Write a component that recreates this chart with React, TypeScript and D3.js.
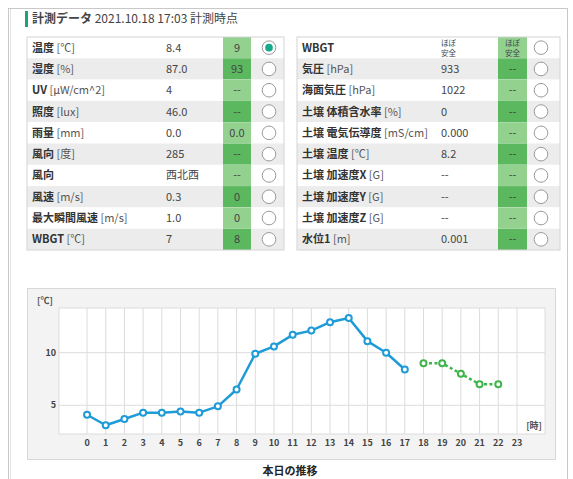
import React from "react";
import * as d3 from "d3";

const leftLabels = ["温度", "湿度", "UV", "照度", "雨量", "風向", "風向", "風速", "最大瞬間風速", "WBGT"];
const leftUnits = [" [℃]", " [%]", " [μW/cm^2]", " [lux]", " [mm]", " [度]", "", " [m/s]", " [m/s]", " [℃]"];
const leftValues = ["8.4", "87.0", "4", "46.0", "0.0", "285", "西北西", "0.3", "1.0", "7"];
const leftForecast = ["9", "93", "--", "--", "0.0", "--", "--", "0", "0", "8"];

const rightLabels = ["WBGT", "気圧", "海面気圧", "土壌 体積含水率", "土壌 電気伝導度", "土壌 温度", "土壌 加速度X", "土壌 加速度Y", "土壌 加速度Z", "水位1"];
const rightUnits = ["", " [hPa]", " [hPa]", " [%]", " [mS/cm]", " [℃]", " [G]", " [G]", " [G]", " [m]"];
const rightValues = ["ほぼ|安全", "933", "1022", "0", "0.000", "8.2", "--", "--", "--", "0.001"];
const rightForecast = ["ほぼ|安全", "--", "--", "--", "--", "--", "--", "--", "--", "--"];

const hourTicks = [0, 1, 2, 3, 4, 5, 6, 7, 8, 9, 10, 11, 12, 13, 14, 15, 16, 17, 18, 19, 20, 21, 22, 23];
const yTicks = [5, 10];
const actualHours = [0, 1, 2, 3, 4, 5, 6, 7, 8, 9, 10, 11, 12, 13, 14, 15, 16, 17];
const actualTemps = [4.1, 3.1, 3.7, 4.3, 4.3, 4.4, 4.3, 4.9, 6.5, 9.9, 10.6, 11.7, 12.1, 12.9, 13.3, 11.1, 10.0, 8.4];
const forecastHours = [18, 19, 20, 21, 22];
const forecastTemps = [9, 9, 8, 7, 7];

const FONT = "'Noto Sans CJK JP', 'Noto Sans', sans-serif";
const BLUE = "#1f9bd7";
const GREEN = "#3fb54c";

function Cell({ text, x, y, anchor = "start", size = 11, weight = 400 }: any) {
  const parts = String(text).split("|");
  if (parts.length > 1) {
    return (
      <g>
        <text x={x} y={y - 1.5} textAnchor={anchor} fontSize={7.5} fill="#444" fontFamily={FONT} fontWeight={weight}>
          {parts[0]}
        </text>
        <text x={x} y={y + 8} textAnchor={anchor} fontSize={7.5} fill="#444" fontFamily={FONT} fontWeight={weight}>
          {parts[1]}
        </text>
      </g>
    );
  }
  return (
    <text x={x} y={y + 4} textAnchor={anchor} fontSize={size} fill="#444" fontFamily={FONT} fontWeight={weight}>
      {text}
    </text>
  );
}

function Table({ x0, width, labels, units, values, forecast, valX, fcX0, fcW, radioX, selected }: any) {
  const top = 37;
  const rowH = 21.3;
  const rows = d3.range(labels.length);
  const yRow = d3.scaleLinear().domain([0, labels.length]).range([top, top + rowH * labels.length]);
  return (
    <g>
      {rows.map((i: number) => {
        const y = yRow(i);
        const cy = y + rowH / 2;
        const even = i % 2 === 1;
        return (
          <g key={i}>
            <rect x={x0} y={y} width={width} height={rowH} fill={even ? "#ececec" : "#ffffff"} />
            <rect x={fcX0} y={y} width={fcW} height={rowH} fill={even ? "#5cb85f" : "#93d18f"} />
            <text x={x0 + 5} y={cy + 4} fontSize={11} fill="#333" fontFamily={FONT}>
              <tspan fontWeight={700}>{labels[i]}</tspan>
              <tspan fontWeight={400} fill="#555">{units[i]}</tspan>
            </text>
            <Cell text={values[i]} x={valX} y={cy} />
            <Cell text={forecast[i]} x={fcX0 + fcW / 2} y={cy} anchor="middle" />
            <circle cx={radioX} cy={cy} r={6.8} fill="#fff" stroke="#9a9a9a" strokeWidth={1} />
            {selected === i && <circle cx={radioX} cy={cy} r={3.8} fill="#16a98a" />}
          </g>
        );
      })}
      <rect x={x0} y={top} width={width} height={rowH * labels.length} fill="none" stroke="#d4d4d4" />
    </g>
  );
}

export default function App() {
  const x = d3.scaleLinear().domain([-1.5, 24.5]).range([59, 545]);
  const y = d3.scaleLinear().domain([2.27, 14.25]).range([434, 308]);
  const actualPts: [number, number][] = actualHours.map((h, i) => [x(h), y(actualTemps[i])]);
  const forecastPts: [number, number][] = forecastHours.map((h, i) => [x(h), y(forecastTemps[i])]);
  const lineGen = d3.line();

  return (
    <svg width={573} height={479} style={{ position: "absolute", left: 0, top: 0, background: "#fff" }}>
      <rect x={8.5} y={8.5} width={559} height={480} fill="#fff" stroke="#c8c8c8" />
      <line x1={10.5} y1={9} x2={10.5} y2={479} stroke="#e2e2e2" />
      <rect x={25} y={11} width={3} height={16} fill="#1aa577" />
      <text x={32} y={23} fontSize={12} fill="#444" fontFamily={FONT}>
        <tspan fontWeight={700}>計測データ</tspan>
        <tspan> 2021.10.18 17:03 計測時点</tspan>
      </text>

      <Table x0={27} width={257} labels={leftLabels} units={leftUnits} values={leftValues} forecast={leftForecast}
        valX={166} fcX0={223} fcW={28} radioX={269} selected={0} />
      <Table x0={297} width={263} labels={rightLabels} units={rightUnits} values={rightValues} forecast={rightForecast}
        valX={441} fcX0={498} fcW={29} radioX={541} selected={-1} />

      <rect x={27.5} y={288.5} width={528} height={171} fill="#f3f3f3" stroke="#d8d8d8" />
      <rect x={59} y={308} width={486} height={126} fill="#fff" stroke="#dcdcdc" />
      {hourTicks.map((h) => (
        <line key={"v" + h} x1={x(h)} x2={x(h)} y1={308} y2={434} stroke="#dcdcdc" />
      ))}
      {yTicks.map((t) => (
        <line key={"h" + t} x1={59} x2={545} y1={y(t)} y2={y(t)} stroke="#dcdcdc" />
      ))}
      {yTicks.map((t) => (
        <text key={"yl" + t} x={56} y={y(t) + 3} textAnchor="end" fontSize={9} fontWeight={700} fill="#444" fontFamily={FONT}>
          {t}
        </text>
      ))}
      {hourTicks.map((h) => (
        <text key={"xl" + h} x={x(h)} y={446} textAnchor="middle" fontSize={9} fontWeight={700} fill="#444" fontFamily={FONT}>
          {h}
        </text>
      ))}
      <text x={37} y={304} fontSize={9} fontWeight={700} fill="#555" fontFamily={FONT}>[℃]</text>
      <text x={542} y={429} textAnchor="end" fontSize={9} fontWeight={700} fill="#555" fontFamily={FONT}>[時]</text>

      <path d={lineGen(actualPts) || ""} fill="none" stroke={BLUE} strokeWidth={2.5} strokeLinejoin="round" />
      {actualPts.map((p, i) => (
        <circle key={"a" + i} cx={p[0]} cy={p[1]} r={3} fill="#fff" stroke={BLUE} strokeWidth={2} />
      ))}
      <path d={lineGen(forecastPts) || ""} fill="none" stroke={GREEN} strokeWidth={2.5} strokeDasharray="3,2.5" />
      {forecastPts.map((p, i) => (
        <circle key={"f" + i} cx={p[0]} cy={p[1]} r={3} fill="#fff" stroke={GREEN} strokeWidth={2} />
      ))}

      <text x={290} y={475} textAnchor="middle" fontSize={11} fontWeight={700} fill="#222" fontFamily={FONT}>本日の推移</text>
    </svg>
  );
}
